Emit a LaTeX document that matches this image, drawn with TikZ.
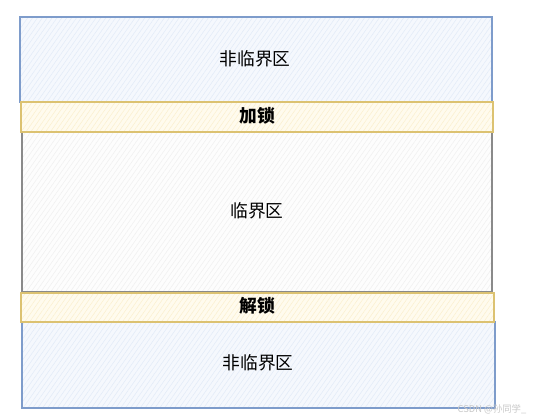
\documentclass[tikz,border=0pt]{standalone}
\usepackage{fontspec}
\usetikzlibrary{patterns.meta}
\newfontfamily\cjk{Noto Sans CJK SC}
\definecolor{bluefill}{HTML}{F5F8FD}
\definecolor{bluehatch}{HTML}{E2EBF8}
\definecolor{bluedraw}{HTML}{7E9CCB}
\definecolor{yelfill}{HTML}{FFFBEE}
\definecolor{yelhatch}{HTML}{FBF0CF}
\definecolor{yeldraw}{HTML}{DCC271}
\definecolor{grayfill}{HTML}{FDFDFD}
\definecolor{grayhatch}{HTML}{F0F0F0}
\definecolor{graydraw}{HTML}{8A8A8A}
\definecolor{wmark}{HTML}{C8C8C8}
\begin{document}
\begin{tikzpicture}[x=0.75pt,y=-0.75pt,
  txt/.style={font=\cjk\fontsize{13.3}{15}\selectfont, text=black},
  boldtxt/.style={font=\cjk\bfseries\fontsize{13.3}{15}\selectfont, text=black},
  hatch/.style={pattern={Lines[angle=55,distance=3pt,line width=0.4pt]}, pattern color=#1},
  nonc/.style={fill=bluefill, draw=bluedraw, line width=0.8pt},
  lockbox/.style={fill=yelfill, draw=yeldraw, line width=0.8pt},
  critbox/.style={fill=grayfill, draw=graydraw, line width=0.8pt}]
\useasboundingbox (0,0) rectangle (533,420);
\fill[white] (0,0) rectangle (533,420);
\fill[bluefill] (20,17) rectangle (492,102);
\fill[hatch=bluehatch] (20,17) rectangle (492,102);
\draw[bluedraw, line width=0.8pt] (20,17) rectangle (492,102);
\fill[grayfill] (22,132) rectangle (492,292);
\fill[hatch=grayhatch] (22,132) rectangle (492,292);
\draw[graydraw, line width=0.8pt] (22,132) rectangle (492,292);
\fill[bluefill] (22,322) rectangle (495,408);
\fill[hatch=bluehatch] (22,322) rectangle (495,408);
\draw[bluedraw, line width=0.8pt] (22,322) rectangle (495,408);
\fill[yelfill] (21,102) rectangle (493,132);
\fill[hatch=yelhatch] (21,102) rectangle (493,132);
\draw[yeldraw, line width=0.8pt] (21,102) rectangle (493,132);
\fill[yelfill] (21,293) rectangle (494,322);
\fill[hatch=yelhatch] (21,293) rectangle (494,322);
\draw[yeldraw, line width=0.8pt] (21,293) rectangle (494,322);
\node[txt] (top) at (255,59) {非临界区};
\node[boldtxt] (lock) at (257,116) {加锁};
\node[txt] (crit) at (257,211) {临界区};
\node[boldtxt] (unlock) at (257,306) {解锁};
\node[txt] (bottom) at (258,363) {非临界区};
\node[font=\cjk\fontsize{7}{8}\selectfont, text=wmark, anchor=east] (wm) at (531,409) {CSDN @孙同学\_};
\end{tikzpicture}
\end{document}
